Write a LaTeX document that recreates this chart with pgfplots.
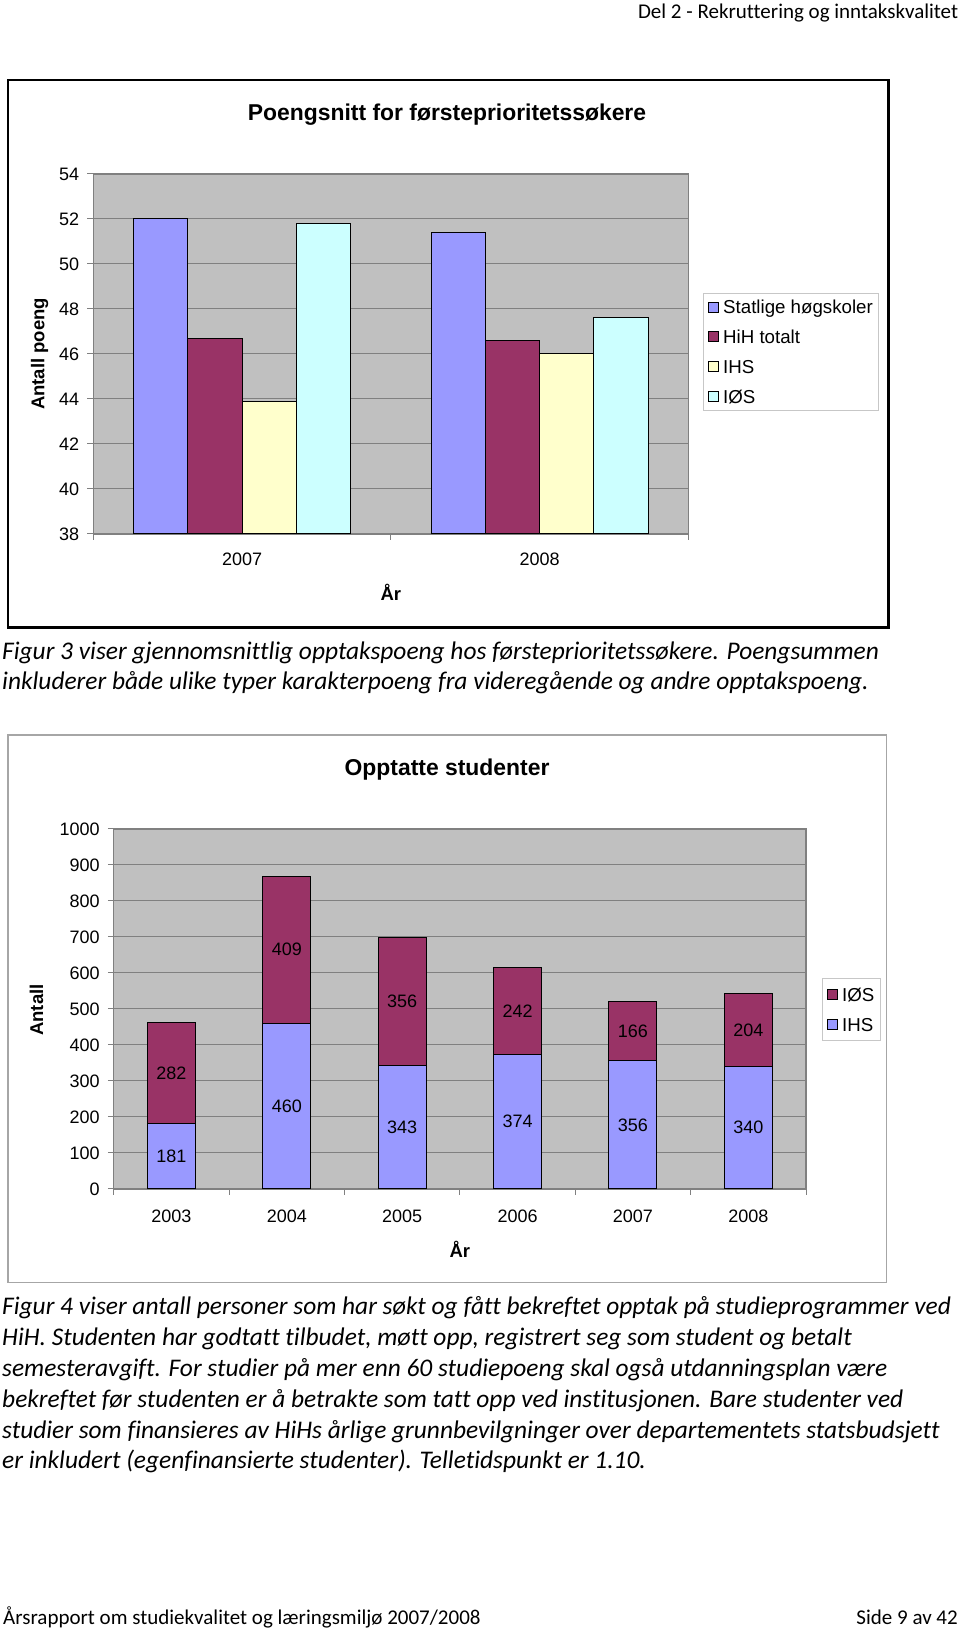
\documentclass[border=0pt]{standalone}
\usepackage{fontspec}
\setmainfont{Carlito}[Ligatures=NoCommon]
\newfontfamily\arial{Liberation Sans}
\usepackage{pgfplots}
\pgfplotsset{compat=1.18}
\definecolor{cblue}{HTML}{9999FF}
\definecolor{cmaroon}{HTML}{993366}
\definecolor{cyellow}{HTML}{FFFFCC}
\definecolor{ccyan}{HTML}{CCFFFF}
\definecolor{pgray}{HTML}{C0C0C0}
\definecolor{lgray}{HTML}{808080}
\definecolor{fgray}{HTML}{A6A6A6}
\newcommand\af[1]{\arial\fontsize{#1}{#1}\selectfont}
\newcommand\capf{\fontsize{25.4}{30}\selectfont\itshape}
\newcommand\hf{\fontsize{21}{24}\selectfont}
\pgfplotsset{
  excel/.style={
    scale only axis, anchor=south west,
    axis background/.style={fill=pgray},
    axis line style={lgray, line width=1.2pt},
    ymajorgrids, grid style={lgray, line width=1pt},
    tick align=outside, tick pos=left, major tick length=6pt,
    tick style={lgray, line width=1pt},
    /pgf/number format/assume math mode=true,
    /pgf/number format/1000 sep={},
    tick label style={font=\af{18}},
    yticklabel style={anchor=east, inner sep=0pt, xshift=-8pt},
    xticklabel style={anchor=north, inner sep=0pt},
    extra x tick style={major tick length=0pt},
    legend cell align=left,
    title style={font=\af{22.9}\bfseries, anchor=center},
    label style={font=\af{18.5}\bfseries},
  },
}
\begin{document}
\begin{tikzpicture}[x=1pt,y=1pt]
\path[use as bounding box] (0,0) rectangle (960,1631);
% header
\node[anchor=base east, inner sep=0pt] at (958.3,1612) {\hf Del 2 - Rekruttering og inntakskvalitet};
% frame chart 1
\draw[line width=2.2pt] (8.3,1551) rectangle (888.5,1003.5);
\begin{axis}[excel, at={(93.3pt,1097pt)}, width=595pt, height=360pt,
  xmin=0, xmax=2, ymin=38, ymax=54, ytick={38,40,...,54},
  xtick={0,1,2}, xticklabels={},
  extra x ticks={0.5,1.5}, extra x tick labels={2007,2008},
  xticklabel style={yshift=-19pt},
  ybar=0pt, bar width=54.25pt,
  title={Poengsnitt for førsteprioritetssøkere},
  title style={at={(axis description cs:0.5945,1.148)}},
  xlabel={År}, xlabel style={at={(axis description cs:0.5,-0.163)}, anchor=center},
  ylabel={Antall poeng}, ylabel style={at={(axis description cs:-0.0904,0.5)}, anchor=center},
  legend style={at={(axis description cs:1.0252,0.6703)}, anchor=north west,
    draw=black!22, fill=white, line width=0.8pt, font=\af{18.7},
    inner xsep=4pt, inner ysep=5.2pt, row sep=12.2pt,
    nodes={inner sep=2pt, text height=13.6pt, text depth=0pt},
    /tikz/every odd column/.append style={column sep=2.6pt}},
  legend image code/.code={\draw[#1, draw=black, line width=0.9pt] (0pt,-5pt) rectangle (10pt,5pt);},
]
\addplot[fill=cblue, draw=black, line width=1pt] coordinates {(0.5,52.0) (1.5,51.4)};
\addplot[fill=cmaroon, draw=black, line width=1pt] coordinates {(0.5,46.7) (1.5,46.6)};
\addplot[fill=cyellow, draw=black, line width=1pt] coordinates {(0.5,43.9) (1.5,46.0)};
\addplot[fill=ccyan, draw=black, line width=1pt] coordinates {(0.5,51.8) (1.5,47.6)};
\legend{Statlige høgskoler, HiH totalt, IHS, IØS}
\end{axis}
% caption 1
\node[anchor=base west, inner sep=0pt] at (2,971.5) {\capf Figur 3 viser gjennomsnittlig opptakspoeng hos førsteprioritetssøkere. Poengsummen};
\node[anchor=base west, inner sep=0pt] at (2,941.5) {\capf inkluderer både ulike typer karakterpoeng fra videregående og andre opptakspoeng.};
% frame chart 2
\draw[fgray, line width=1.3pt] (8,896) rectangle (886.7,348.3);
\begin{axis}[excel, at={(113.8pt,442pt)}, width=692.2pt, height=360pt,
  xmin=-0.5, xmax=5.5, ymin=0, ymax=1000, ytick={0,100,...,1000},
  xtick={-0.5,0.5,...,5.5}, xticklabels={},
  extra x ticks={0,1,2,3,4,5}, extra x tick labels={2003,2004,2005,2006,2007,2008},
  xticklabel style={yshift=-20.5pt},
  ybar stacked, bar width=48pt,
  nodes near coords,
  every node near coord/.append style={font=\af{18}, black, anchor=center},
  title={Opptatte studenter},
  title style={at={(axis description cs:0.4814,1.147)}},
  xlabel={År}, xlabel style={at={(axis description cs:0.5,-0.169)}, anchor=center},
  ylabel={Antall}, ylabel style={at={(axis description cs:-0.1117,0.497)}, anchor=center},
  reverse legend,
  legend style={at={(axis description cs:1.0236,0.5853)}, anchor=north west,
    draw=black!22, fill=white, line width=0.8pt, font=\af{18.7},
    inner xsep=4pt, inner ysep=6.8pt, row sep=12.5pt,
    nodes={inner sep=2pt, text height=13.6pt, text depth=0pt},
    /tikz/every odd column/.append style={column sep=2.6pt}},
  legend image code/.code={\draw[#1, draw=black, line width=0.9pt] (0pt,-5pt) rectangle (10pt,5pt);},
]
\addplot[fill=cblue, draw=black, line width=1pt] coordinates {(0,181) (1,460) (2,343) (3,374) (4,356) (5,340)};
\addplot[fill=cmaroon, draw=black, line width=1pt] coordinates {(0,282) (1,409) (2,356) (3,242) (4,166) (5,204)};
\legend{IHS, IØS}
\end{axis}
% caption 2
\node[anchor=base west, inner sep=0pt] at (2,316) {\capf Figur 4 viser antall personer som har søkt og fått bekreftet opptak på studieprogrammer ved};
\node[anchor=base west, inner sep=0pt] at (2,285.2) {\capf HiH. Studenten har godtatt tilbudet, møtt opp, registrert seg som student og betalt};
\node[anchor=base west, inner sep=0pt] at (2,254.4) {\capf semesteravgift. For studier på mer enn 60 studiepoeng skal også utdanningsplan være};
\node[anchor=base west, inner sep=0pt] at (2,223.6) {\capf bekreftet før studenten er å betrakte som tatt opp ved institusjonen. Bare studenter ved};
\node[anchor=base west, inner sep=0pt] at (2,192.8) {\capf studier som finansieres av HiHs årlige grunnbevilgninger over departementets statsbudsjett};
\node[anchor=base west, inner sep=0pt] at (2,162) {\capf er inkludert (egenfinansierte studenter). Telletidspunkt er 1.10.};
% footer
\node[anchor=base west, inner sep=0pt] at (3,6) {\hf Årsrapport om studiekvalitet og læringsmiljø 2007/2008};
\node[anchor=base east, inner sep=0pt] at (958,6) {\hf Side 9 av 42};
\end{tikzpicture}
\end{document}
